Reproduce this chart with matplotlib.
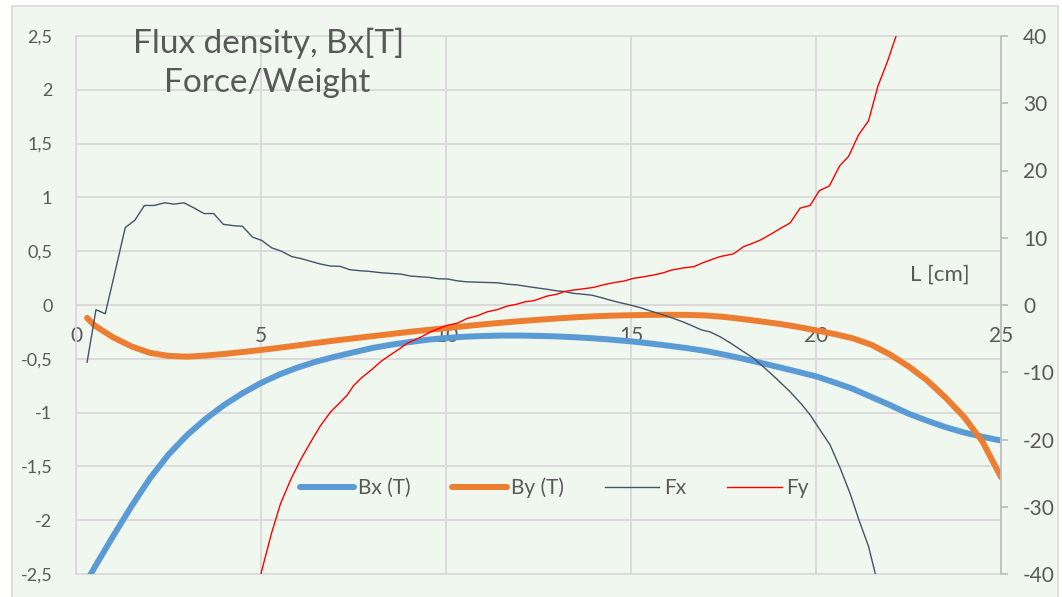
import matplotlib
matplotlib.use("Agg")
import matplotlib.pyplot as plt
from matplotlib.patches import Rectangle
from matplotlib.ticker import FuncFormatter, MultipleLocator

plt.rcParams["font.family"] = ["Lato", "DejaVu Sans"]
plt.rcParams["axes.unicode_minus"] = False

TEXT_GRAY = "#595959"
GRID_GRAY = "#D9D9D9"
BG_MINT = "#EFF7EE"

# Flux density curves (left axis, T), read every 0.5 cm
b_x = [0.3, 0.5, 1.0, 1.5, 2.0, 2.5, 3.0, 3.5, 4.0, 4.5, 5.0, 5.5, 6.0, 6.5,
       7.0, 7.5, 8.0, 8.5, 9.0, 9.5, 10.0, 10.5, 11.0, 11.5, 12.0, 12.5, 13.0,
       13.5, 14.0, 14.5, 15.0, 15.5, 16.0, 16.5, 17.0, 17.5, 18.0, 18.5, 19.0,
       19.5, 20.0, 20.5, 21.0, 21.5, 22.0, 22.5, 23.0, 23.5, 24.0, 24.5, 25.0]
bx_vals = [-2.56, -2.44, -2.15, -1.87, -1.61, -1.39, -1.21, -1.06, -0.93, -0.82,
           -0.725, -0.645, -0.58, -0.525, -0.48, -0.44, -0.40, -0.37, -0.345,
           -0.323, -0.307, -0.295, -0.288, -0.284, -0.284, -0.287, -0.292,
           -0.30, -0.31, -0.323, -0.338, -0.357, -0.378, -0.40, -0.426, -0.46,
           -0.497, -0.537, -0.578, -0.62, -0.663, -0.72, -0.78, -0.855, -0.93,
           -1.01, -1.075, -1.135, -1.185, -1.225, -1.26]
by_vals = [-0.12, -0.19, -0.30, -0.385, -0.445, -0.473, -0.48, -0.47, -0.455,
           -0.437, -0.418, -0.397, -0.375, -0.352, -0.33, -0.31, -0.29, -0.27,
           -0.25, -0.232, -0.215, -0.197, -0.18, -0.165, -0.15, -0.137, -0.125,
           -0.114, -0.105, -0.099, -0.095, -0.092, -0.091, -0.092, -0.097,
           -0.11, -0.13, -0.152, -0.175, -0.203, -0.235, -0.27, -0.31, -0.37,
           -0.46, -0.57, -0.70, -0.86, -1.04, -1.27, -1.60]

# Force / weight curves (right axis)
fx_x = [0.30, 0.54, 0.79, 1.08, 1.33, 1.59, 1.85, 2.11, 2.40, 2.65, 2.92, 3.20,
        3.46, 3.72, 3.98, 4.25, 4.50, 4.77, 5.02, 5.29, 5.55, 5.83, 6.08, 6.34,
        6.60, 6.87, 7.14, 7.40, 7.67, 7.93, 8.24, 8.50, 8.77, 9.05, 9.30, 9.55,
        9.80, 10.04, 10.30, 10.55, 10.80, 11.10, 11.40, 11.65, 11.90, 12.20,
        12.45, 12.74, 13.00, 13.20, 13.45, 13.70, 13.95, 14.20, 14.45, 14.70,
        14.98, 15.25, 15.50, 15.80, 16.10, 16.40, 16.70, 16.90, 17.14, 17.40,
        17.70, 18.00, 18.31, 18.60, 18.90, 19.30, 19.60, 19.85, 20.10, 20.38,
        20.65, 20.92, 21.15, 21.42, 21.60, 21.80]
fx_vals = [-8.5, -0.7, -1.3, 5.5, 11.5, 12.6, 14.8, 14.8, 15.2, 15.0, 15.2, 14.4,
           13.6, 13.6, 12.0, 11.8, 11.7, 10.1, 9.6, 8.5, 8.0, 7.2, 6.9, 6.5,
           6.1, 5.8, 5.75, 5.25, 5.1, 5.0, 4.8, 4.7, 4.6, 4.3, 4.2, 4.1,
           3.9, 3.87, 3.6, 3.45, 3.4, 3.35, 3.3, 3.1, 3.0, 2.75,
           2.55, 2.33, 2.1, 2.0, 1.73, 1.6, 1.45, 1.1, 0.7, 0.35,
           0.0, -0.4, -0.85, -1.35, -1.9, -2.5, -3.2, -3.7, -4.0, -4.7,
           -5.7, -6.8, -7.9, -9.3, -10.8, -12.9, -14.7, -16.4, -18.5, -20.8,
           -24.2, -28.0, -31.8, -35.9, -39.9, -44.0]

fy_x = [4.75, 5.02, 5.28, 5.53, 5.80, 6.07, 6.33, 6.60, 6.88, 7.10, 7.33, 7.50,
        7.70, 7.97, 8.24, 8.50, 8.72, 8.95, 9.31, 9.60, 9.85, 10.05, 10.30,
        10.58, 10.85, 11.12, 11.38, 11.66, 11.90, 12.15, 12.37, 12.74, 13.00,
        13.20, 13.45, 13.70, 14.00, 14.25, 14.53, 14.80, 15.07, 15.35, 15.61,
        15.88, 16.10, 16.40, 16.70, 16.95, 17.20, 17.41, 17.77, 18.04, 18.25,
        18.50, 18.80, 19.04, 19.30, 19.57, 19.84, 20.09, 20.36, 20.64, 20.88,
        21.15, 21.42, 21.67, 21.93, 22.17, 22.40]
fy_vals = [-46.0, -39.5, -34.0, -29.5, -26.0, -23.0, -20.5, -18.0, -15.9, -14.7,
           -13.4, -12.0, -10.9, -9.7, -8.4, -7.4, -6.6, -5.7, -4.8, -3.96, -3.4,
           -3.0, -2.72, -1.98, -1.6, -1.0, -0.7, -0.15, 0.1, 0.5, 0.64, 1.34,
           1.6, 2.0, 2.23, 2.4, 2.63, 3.0, 3.32, 3.55, 3.97, 4.2, 4.46, 4.8,
           5.2, 5.5, 5.7, 6.3, 6.8, 7.2, 7.6, 8.67, 9.1, 9.67, 10.6, 11.4, 12.2,
           14.4, 14.8, 17.0, 17.7, 20.7, 22.1, 25.3, 27.4, 32.5, 36.2, 40.1, 44.0]

x_ticks = [0, 5, 10, 15, 20, 25]


def comma_fmt(v, _pos):
    return f"{v:g}".replace(".", ",")


def main():
    fig = plt.figure(figsize=(10.62, 5.97), dpi=100)
    fig.patch.set_facecolor("white")
    # chart area with light border
    fig.patches.append(Rectangle((12 / 1062, -0.01), 1046 / 1062, 1.0,
                                 transform=fig.transFigure, facecolor=BG_MINT,
                                 edgecolor=GRID_GRAY, linewidth=1.2, zorder=-10))

    ax = fig.add_axes([76 / 1062, 1 - 574 / 597, 925 / 1062, 538 / 597])
    ax.set_facecolor("none")
    ax2 = ax.twinx()

    ax.plot(b_x, bx_vals, color="#5B9BD5", lw=4.3, solid_capstyle="round",
            solid_joinstyle="round", label="Bx (T)")
    ax.plot(b_x, by_vals, color="#ED7D31", lw=4.3, solid_capstyle="round",
            solid_joinstyle="round", label="By (T)")
    ax2.plot(fx_x, fx_vals, color="#44546A", lw=1.0, label="Fx")
    ax2.plot(fy_x, fy_vals, color="#FF0000", lw=1.0, label="Fy")

    ax.set_xlim(0, 25)
    ax.set_ylim(-2.5, 2.5)
    ax2.set_ylim(-40, 40)

    ax.yaxis.set_major_locator(MultipleLocator(0.5))
    ax.yaxis.set_major_formatter(FuncFormatter(comma_fmt))
    ax.set_xticks(x_ticks)
    ax2.yaxis.set_major_locator(MultipleLocator(10))

    # gridlines from the left axis
    ax.grid(True, color=GRID_GRAY, lw=1.3)
    ax.set_axisbelow(True)
    for gl in ax.get_ygridlines():
        gl.set_clip_on(False)

    # x axis crosses at y = 0
    ax.spines["bottom"].set_position(("data", 0))
    ax.spines["bottom"].set_color(GRID_GRAY)
    ax.spines["left"].set_color(GRID_GRAY)
    ax.spines["left"].set_linewidth(1.3)
    for s in ["top", "right"]:
        ax.spines[s].set_visible(False)
    for s in ["top", "bottom", "left"]:
        ax2.spines[s].set_visible(False)
    ax2.spines["right"].set_color("#BFBFBF")
    ax2.spines["right"].set_linewidth(1.3)

    ax.tick_params(axis="x", length=0, pad=15, labelsize=15, labelcolor=TEXT_GRAY)
    ax.tick_params(axis="y", length=0, pad=17, labelsize=13, labelcolor=TEXT_GRAY)
    ax2.tick_params(axis="y", direction="out", length=5, width=1.3,
                    color="#BFBFBF", pad=11, labelsize=15, labelcolor=TEXT_GRAY)

    # titles inside the plot area
    fig.text(269 / 1062, 1 - 43 / 597, "Flux density, Bx[T]", ha="center",
             va="center", fontsize=24, color=TEXT_GRAY)
    fig.text(267 / 1062, 1 - 83 / 597, "Force/Weight", ha="center",
             va="center", fontsize=24, color=TEXT_GRAY)
    fig.text(940 / 1062, 1 - 275 / 597, "L [cm]", ha="center", va="center",
             fontsize=16, color=TEXT_GRAY)

    h1, l1 = ax.get_legend_handles_labels()
    h2, l2 = ax2.get_legend_handles_labels()
    fig.legend(h1 + h2, l1 + l2, loc="center", ncol=4, frameon=False,
               bbox_to_anchor=(554 / 1062, 1 - 488 / 597), fontsize=15,
               labelcolor=TEXT_GRAY, handlelength=2.6, handletextpad=0.2,
               columnspacing=2.0)

    fig.savefig("out.png", dpi=100, facecolor=fig.get_facecolor())
    plt.close(fig)


if __name__ == "__main__":
    main()
